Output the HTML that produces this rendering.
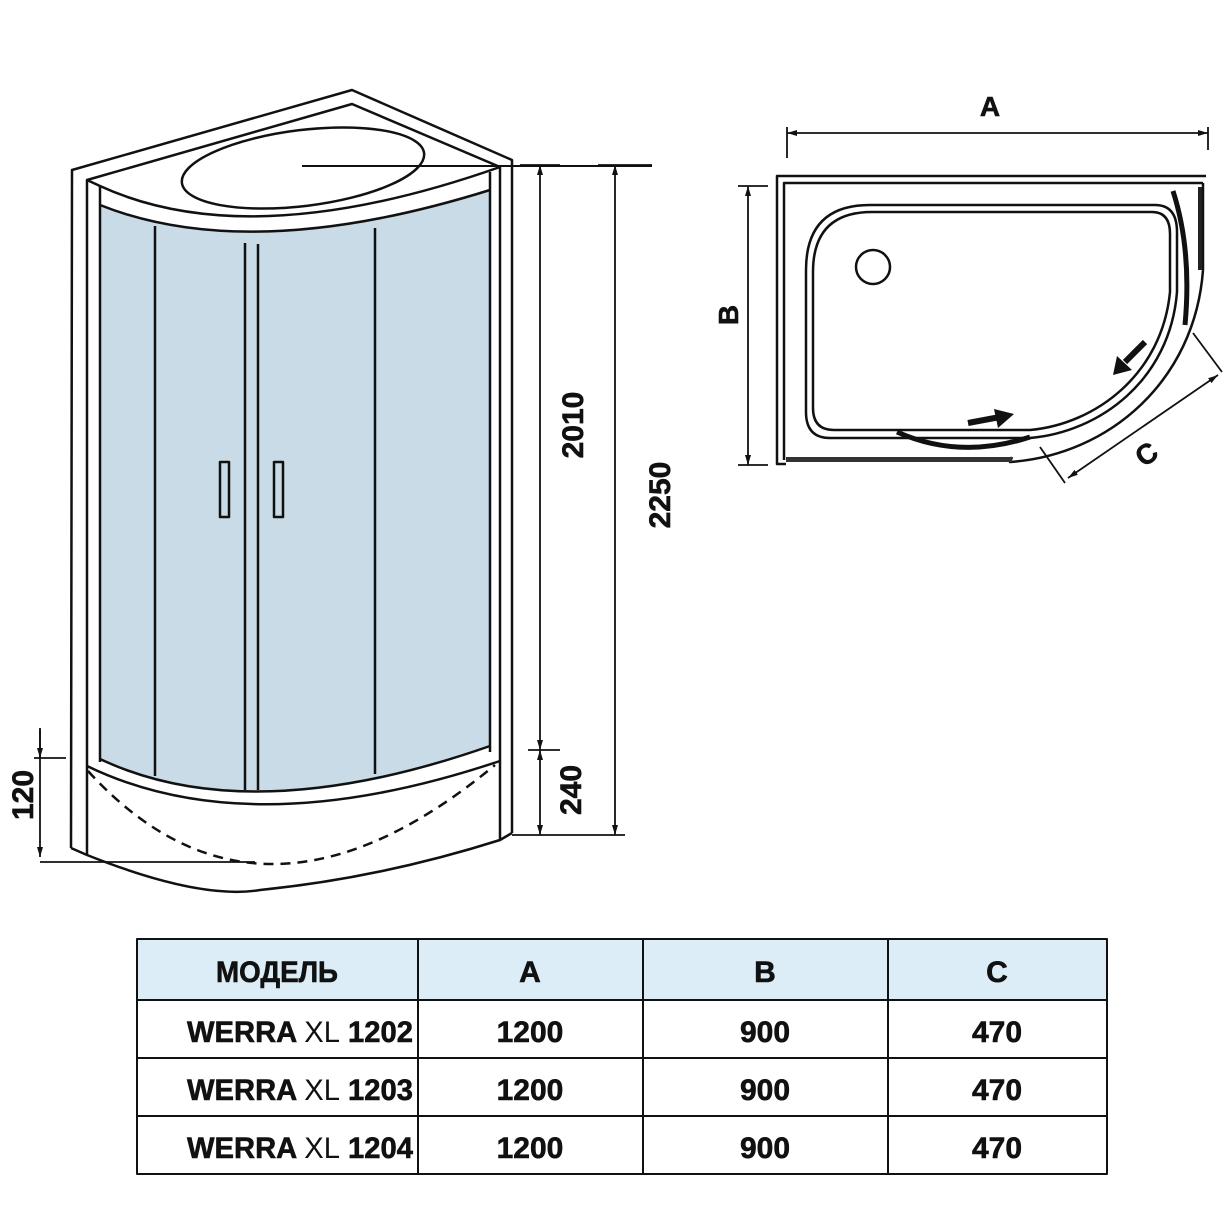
<!DOCTYPE html>
<html><head><meta charset="utf-8"><style>
html,body{margin:0;padding:0;background:#fff}
svg{display:block}
text{font-family:"Liberation Sans",sans-serif;font-weight:bold;fill:#111;stroke:#111;stroke-width:0.6}
</style></head><body>
<svg width="1230" height="1230" viewBox="0 0 1230 1230" xmlns="http://www.w3.org/2000/svg">
<defs>
<marker id="ar" viewBox="0 0 10 10" refX="10" refY="5" markerWidth="10" markerHeight="10" orient="auto-start-reverse" markerUnits="userSpaceOnUse"><path d="M0,2 L10,5 L0,8 z" fill="#111"/></marker>
</defs>
<g fill="none" stroke="#111" stroke-width="2.5" stroke-linejoin="round">
<path d="M100,205 Q250,265 490,190 L490,746 Q250,830 100,759 Z" fill="#c8dbe6" stroke="none"/>
<path d="M71,848 L72,170 L352,90 L512,160 L512,833"/>
<path d="M87,855 L87,180 L352,104 L500,167 L500,840"/>
<path d="M100,762 L100,186"/>
<path d="M490,752 L490,172"/>
<path d="M87,180 L100,186 Q250,255 500,167"/>
<path d="M100,205 Q250,265 490,190"/>
<ellipse cx="303" cy="168" rx="122" ry="38" transform="rotate(-7 303 168)"/>
<path d="M302,166 L652,166" stroke-width="2"/>
<path d="M155,226 V776 M245,243 V790 M258,244 V790 M375,228 V774"/>
<rect x="220" y="462" width="9" height="55" stroke-width="2.5"/>
<rect x="274" y="462" width="9" height="55" stroke-width="2.5"/>
<path d="M100,759 Q250,830 490,746"/>
<path d="M87,766 Q250,845 500,761"/>
<path d="M88,771 Q260,960 495,765" stroke-dasharray="10,7"/>
<path d="M71,848 L87,855 Q200,900 260,890 Q380,878 500,840 L512,833"/>
<path d="M40,728 V857" stroke-width="1.8" marker-end="url(#ar)"/>
<path d="M40,730 V758" stroke-width="1.8" marker-end="url(#ar)"/>
<path d="M34,758 H66 M40,862 H255" stroke-width="1.8"/>
<path d="M540,165 V750" stroke-width="1.8" marker-start="url(#ar)" marker-end="url(#ar)"/>
<path d="M540,750 V835" stroke-width="1.8" marker-start="url(#ar)" marker-end="url(#ar)"/>
<path d="M520,165 H560 M528,750 H560 M512,835 H625" stroke-width="1.8"/>
<path d="M615,165 V835" stroke-width="1.8" marker-start="url(#ar)" marker-end="url(#ar)"/>
<path d="M598,165 H652" stroke-width="1.8"/>
<path d="M1206,176 H777 V464 H786"/>
<path d="M1203,183 H784 V460"/>
<path d="M1203,183 V270"/>
<path d="M870,205 H1155 Q1177,205 1177,232 V292 C1170,380 1100,432 1030,438 H830 Q806,438 806,412 V270 Q806,205 870,205 Z"/>
<path d="M872,212 H1152 Q1170,212 1170,234 V292 C1162,374 1096,424 1030,430 H834 Q813,430 813,408 V272 Q813,212 872,212 Z"/>
<circle cx="873" cy="267" r="17"/>
<path d="M1203,270 C1195,380 1110,455 1010,462 L1012,457"/>
<path d="M786,460 H1012"/>
<rect x="1198" y="187" width="4" height="83" fill="#222" stroke="none"/>
<rect x="786" y="457" width="226" height="5" fill="#333" stroke="none"/>
<path d="M1173,191 Q1192,250 1185,325" stroke-width="5"/>
<path d="M897,432 Q960,460 1030,437" stroke-width="5"/>
<path d="M968,423 L1000,417" stroke-width="6"/>
<path d="M994,409 L1014,414 L998,428 Z" fill="#111" stroke="none"/>
<path d="M1145,342 L1125,362" stroke-width="6"/>
<path d="M1117,356 L1113,375 L1132,370 Z" fill="#111" stroke="none"/>
<path d="M1193,333 L1222,372 M1040,447 L1065,483" stroke-width="1.8"/>
<path d="M1068,478 L1218,375" stroke-width="1.8" marker-start="url(#ar)" marker-end="url(#ar)"/>
<path d="M787,133 H1208" stroke-width="1.8" marker-start="url(#ar)" marker-end="url(#ar)"/>
<path d="M787,127 V158 M1208,127 V150" stroke-width="1.8"/>
<path d="M748,186 V465" stroke-width="1.8" marker-start="url(#ar)" marker-end="url(#ar)"/>
<path d="M738,186 H768 M738,465 H768" stroke-width="1.8"/>
<rect x="137" y="939" width="970" height="61" fill="#dcedf8" stroke="none"/>
<rect x="137" y="939" width="970" height="235" stroke-width="2"/>
<path d="M137,1000 H1107 M137,1058 H1107 M137,1116 H1107 M418,939 V1174 M643,939 V1174 M888,939 V1174" stroke-width="2"/>
</g>
<text font-size="30" transform="translate(33,795) rotate(-90)" text-anchor="middle">120</text>
<text font-size="30" transform="translate(583,425) rotate(-90)" text-anchor="middle">2010</text>
<text font-size="30" transform="translate(581,790) rotate(-90)" text-anchor="middle">240</text>
<text font-size="30" transform="translate(670,495) rotate(-90)" text-anchor="middle">2250</text>
<text x="990" y="116" font-size="28" text-anchor="middle">A</text>
<text font-size="28" transform="translate(738,315) rotate(-90)" text-anchor="middle">B</text>
<text font-size="28" transform="translate(1152,462) rotate(-35)" text-anchor="middle">C</text>
<g font-size="30">
<text x="216" y="982" textLength="122" lengthAdjust="spacingAndGlyphs">МОДЕЛЬ</text>
<text x="530" y="982" text-anchor="middle">A</text>
<text x="765" y="982" text-anchor="middle">B</text>
<text x="997" y="982" text-anchor="middle">C</text>
<text x="187" y="1042" textLength="226" lengthAdjust="spacingAndGlyphs">WERRA <tspan font-weight="normal" stroke-width="0">XL</tspan> 1202</text>
<text x="187" y="1100" textLength="226" lengthAdjust="spacingAndGlyphs">WERRA <tspan font-weight="normal" stroke-width="0">XL</tspan> 1203</text>
<text x="187" y="1158" textLength="226" lengthAdjust="spacingAndGlyphs">WERRA <tspan font-weight="normal" stroke-width="0">XL</tspan> 1204</text>
<text x="530" y="1042" text-anchor="middle">1200</text>
<text x="530" y="1100" text-anchor="middle">1200</text>
<text x="530" y="1158" text-anchor="middle">1200</text>
<text x="765" y="1042" text-anchor="middle">900</text>
<text x="765" y="1100" text-anchor="middle">900</text>
<text x="765" y="1158" text-anchor="middle">900</text>
<text x="997" y="1042" text-anchor="middle">470</text>
<text x="997" y="1100" text-anchor="middle">470</text>
<text x="997" y="1158" text-anchor="middle">470</text>
</g>
</svg>
</body></html>
